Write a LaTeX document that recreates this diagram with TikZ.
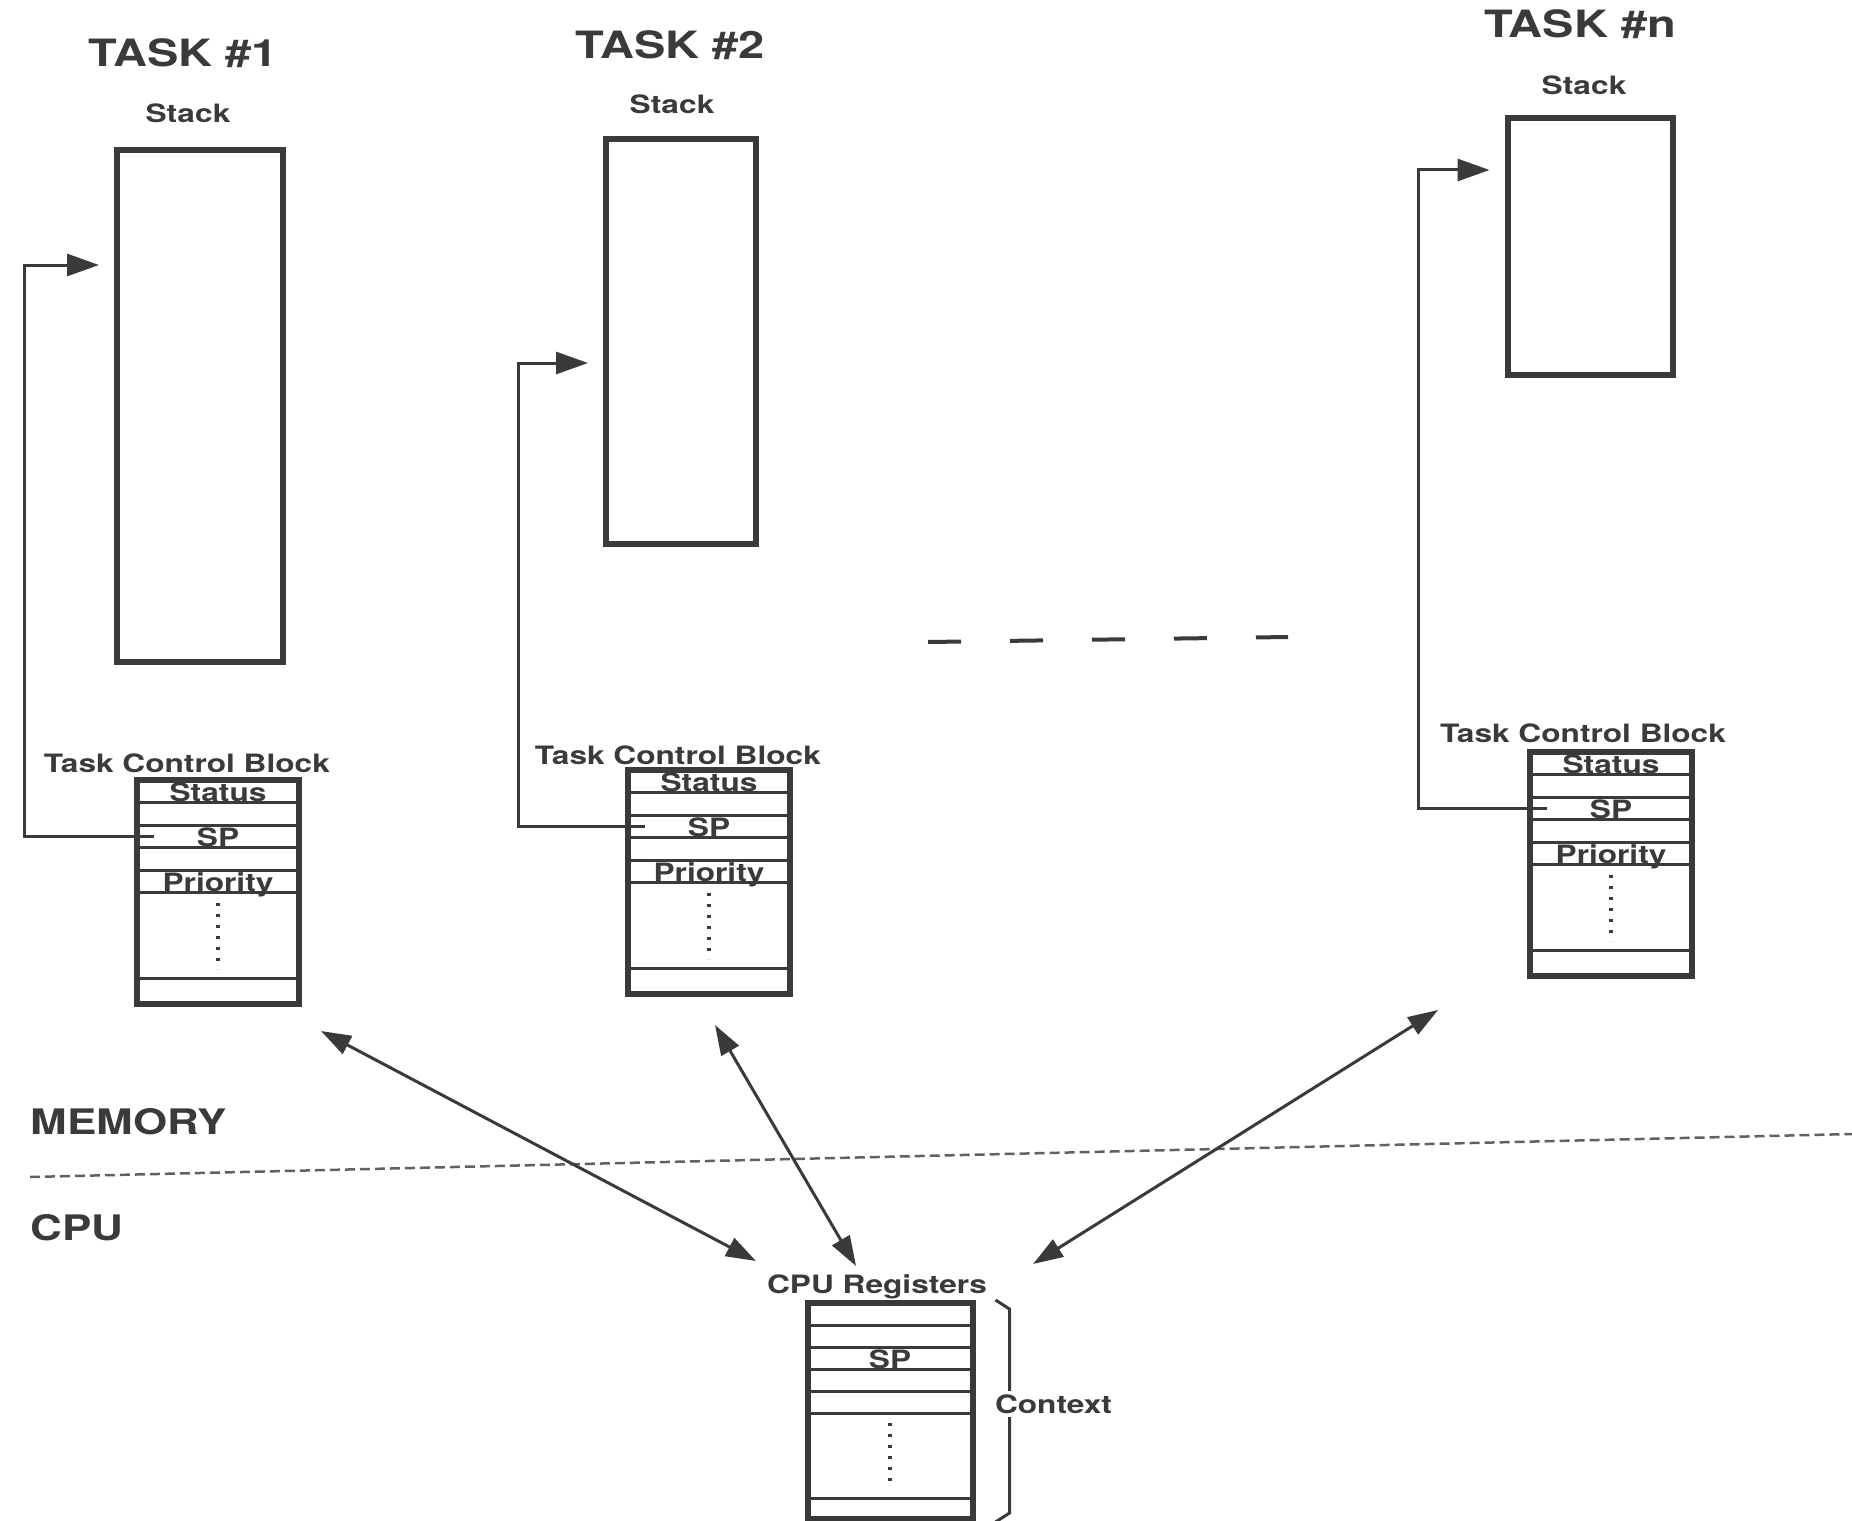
\documentclass[tikz,border=0pt]{standalone}
\usepackage{fontspec}
\setmainfont{TeX Gyre Heros}[FakeStretch=1.25]
\usetikzlibrary{shapes,arrows.meta,positioning,fit,calc}
\definecolor{ink}{HTML}{3A3A3A}

\begin{document}
\begin{tikzpicture}[x=0.1mm, y=-0.1mm, node distance=0pt]

 \tikzset{
   tasktitle/.style={font=\fontsize{10.7}{12}\selectfont\bfseries, text=ink, inner sep=0pt},
   smalllbl/.style={font=\fontsize{7.2}{8}\selectfont\bfseries, text=ink, inner sep=0pt},
   sidelbl/.style={font=\fontsize{10}{12}\selectfont\bfseries, text=ink, inner sep=0pt, anchor=west},
   stackbox/.style={rectangle, draw=ink, line width=0.6mm, anchor=north},
   row/.style={rectangle, draw=ink, line width=0.3mm, minimum width=16.2mm, minimum height=2.25mm,
               inner sep=0pt, outer sep=0pt, text height=2.1mm, text depth=0mm,
               font=\fontsize{7.2}{8}\selectfont\bfseries, text=ink},
   dotsrow/.style={row, minimum height=8.6mm},
   lastrow/.style={row, minimum height=2.5mm},
   cpurow/.style={row, minimum width=16.5mm, minimum height=2.2mm},
   tcbframe/.style={rectangle, draw=ink, line width=0.6mm, inner sep=0pt},
   vdots/.style={draw=ink, line width=0.45mm, dash pattern=on 0.3mm off 0.8mm},
   link/.style={draw=ink, line width=0.3mm, -{Triangle[length=3.2mm, width=2.2mm]}},
   xfer/.style={draw=ink, line width=0.3mm, {Triangle[length=3mm, width=2mm]}-{Triangle[length=3mm, width=2mm]}},
   divider/.style={draw=ink!80, line width=0.25mm, dash pattern=on 1mm off 0.5mm},
   ellipsis/.style={draw=ink, line width=0.4mm, dash pattern=on 3.3mm off 4.9mm}
 }

 \useasboundingbox (0,0) rectangle (1852,1520);

 % Top edge of the control blocks
 \def\tcbTopOne{780}
 \def\tcbTopTwo{770}
 \def\tcbTopN{752}
 \def\gap{15}

 % Task 1
 \node[tasktitle] (task1) at (183,53) {TASK \#1};
 \node[smalllbl] (stack1_lbl) at (188,113) {Stack};
 \node[stackbox, minimum width=16.6mm, minimum height=51.2mm] (stack1) at (200,147) {};
 \node[smalllbl] (tcb1_lbl) at (187,763) {Task Control Block};
 \node[row, anchor=north] (status1) at (218,\tcbTopOne) {Status};
 \node[row, below=of status1] (free1a) {};
 \node[row, below=of free1a] (sp1) {SP};
 \node[row, below=of sp1] (free1b) {};
 \node[row, below=of free1b] (prio1) {Priority};
 \node[dotsrow, below=of prio1] (more1) {};
 \node[lastrow, below=of more1] (last1) {};
 \node[tcbframe, fit=(status1)(last1)] (tcb1) {};
 \draw[vdots] ($(more1.north)+(0,10)$) -- ($(more1.south)+(0,-10)$);
 \coordinate (turn1) at (24,265);
 \draw[link] ($(sp1.west)+(17,0)$) -| (turn1) -- ($(stack1.west |- turn1)+(-\gap,0)$);

 % Task 2
 \node[tasktitle] (task2) at (670,45) {TASK \#2};
 \node[smalllbl] (stack2_lbl) at (672,104) {Stack};
 \node[stackbox, minimum width=15mm, minimum height=40.5mm] (stack2) at (681,136) {};
 \node[smalllbl] (tcb2_lbl) at (678,755) {Task Control Block};
 \node[row, anchor=north] (status2) at (709,\tcbTopTwo) {Status};
 \node[row, below=of status2] (free2a) {};
 \node[row, below=of free2a] (sp2) {SP};
 \node[row, below=of sp2] (free2b) {};
 \node[row, below=of free2b] (prio2) {Priority};
 \node[dotsrow, below=of prio2] (more2) {};
 \node[lastrow, below=of more2] (last2) {};
 \node[tcbframe, fit=(status2)(last2)] (tcb2) {};
 \draw[vdots] ($(more2.north)+(0,10)$) -- ($(more2.south)+(0,-10)$);
 \coordinate (turn2) at (518,363);
 \draw[link] ($(sp2.west)+(17,0)$) -| (turn2) -- ($(stack2.west |- turn2)+(-\gap,0)$);

 % Task n
 \node[tasktitle] (taskn) at (1580,24) {TASK \#n};
 \node[smalllbl] (stackn_lbl) at (1584,85) {Stack};
 \node[stackbox, minimum width=16.5mm, minimum height=25.7mm] (stackn) at (1590,115) {};
 \node[smalllbl] (tcbn_lbl) at (1583,733) {Task Control Block};
 \node[row, anchor=north] (statusn) at (1611,\tcbTopN) {Status};
 \node[row, below=of statusn] (freena) {};
 \node[row, below=of freena] (spn) {SP};
 \node[row, below=of spn] (freenb) {};
 \node[row, below=of freenb] (prion) {Priority};
 \node[dotsrow, below=of prion] (moren) {};
 \node[lastrow, below=of moren] (lastn) {};
 \node[tcbframe, fit=(statusn)(lastn)] (tcbn) {};
 \draw[vdots] ($(moren.north)+(0,10)$) -- ($(moren.south)+(0,-10)$);
 \coordinate (turnn) at (1418,170);
 \draw[link] ($(spn.west)+(17,0)$) -| (turnn) -- ($(stackn.west |- turnn)+(-\gap,0)$);

 % Tasks in between
 \draw[ellipsis] (928,642) -- (1288,637);

 % Memory / CPU boundary
 \draw[divider] (30,1177) -- (1852,1134);
 \node[sidelbl] (memory) at (30,1122) {MEMORY};
 \node[sidelbl] (cpu) at (30,1228) {CPU};

 % CPU registers
 \node[smalllbl] (regs_lbl) at (877,1287) {CPU Registers};
 \node[cpurow, anchor=north] (reg_a) at (890,1303) {};
 \node[cpurow, below=of reg_a] (reg_b) {};
 \node[cpurow, below=of reg_b] (reg_sp) {SP};
 \node[cpurow, below=of reg_sp] (reg_c) {};
 \node[cpurow, below=of reg_c] (reg_d) {};
 \node[cpurow, minimum height=8.5mm, below=of reg_d] (reg_more) {};
 \node[cpurow, minimum height=1.9mm, below=of reg_more] (reg_last) {};
 \node[tcbframe, fit=(reg_a)(reg_last)] (regs) {};
 \draw[vdots] ($(reg_more.north)+(0,10)$) -- ($(reg_more.south)+(0,-10)$);
 \draw[draw=ink, line width=0.3mm] ($(regs.north east)+(20,0)$) -- ++(14,9)
   -- ($(regs.south east)+(34,-9)$) -- ++(-14,9);
 \node[smalllbl, fill=white, inner sep=1pt] (context) at ($(regs.east)+(78,-7)$) {Context};

 % Context switch transfers
 \coordinate (m1) at (321,1031);
 \coordinate (c1) at (756,1261);
 \coordinate (m2) at (715,1025);
 \coordinate (c2) at (856,1266);
 \coordinate (m3) at (1438,1010);
 \coordinate (c3) at (1033,1264);
 \draw[xfer] (m1) -- (c1);
 \draw[xfer] (m2) -- (c2);
 \draw[xfer] (m3) -- (c3);

\end{tikzpicture}
\end{document}
